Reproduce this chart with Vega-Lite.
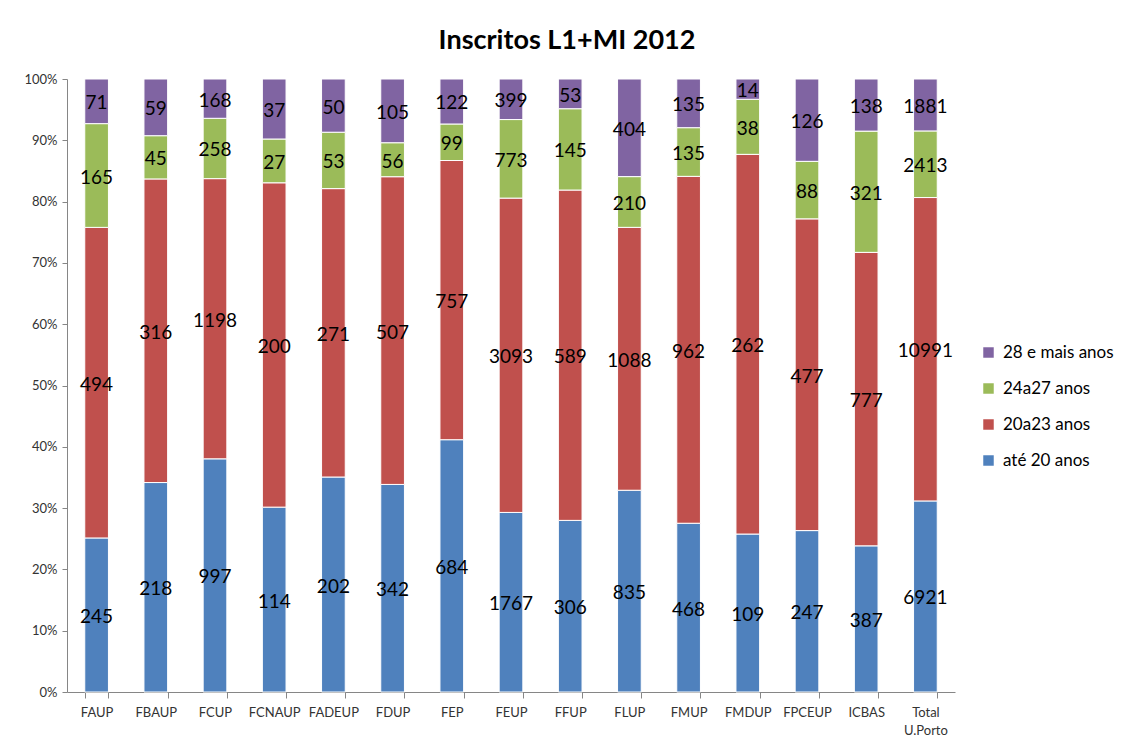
{
  "$schema": "https://vega.github.io/schema/vega-lite/v6.json",
  "width": 888,
  "height": 613,
  "autosize": "none",
  "padding": {"left": 67, "top": 79, "right": 177, "bottom": 52},
  "background": "white",
  "config": {"view": {"stroke": null}, "font": "Lato"},
  "title": {"text": "Inscritos L1+MI 2012", "fontSize": 27, "fontWeight": "bold", "font": "Lato", "color": "#000000", "anchor": "middle", "dx": 56, "offset": 18},
  "data": {"values": [
    {"f": "FAUP", "até 20 anos": 245, "20a23 anos": 494, "24a27 anos": 165, "28 e mais anos": 71},
    {"f": "FBAUP", "até 20 anos": 218, "20a23 anos": 316, "24a27 anos": 45, "28 e mais anos": 59},
    {"f": "FCUP", "até 20 anos": 997, "20a23 anos": 1198, "24a27 anos": 258, "28 e mais anos": 168},
    {"f": "FCNAUP", "até 20 anos": 114, "20a23 anos": 200, "24a27 anos": 27, "28 e mais anos": 37},
    {"f": "FADEUP", "até 20 anos": 202, "20a23 anos": 271, "24a27 anos": 53, "28 e mais anos": 50},
    {"f": "FDUP", "até 20 anos": 342, "20a23 anos": 507, "24a27 anos": 56, "28 e mais anos": 105},
    {"f": "FEP", "até 20 anos": 684, "20a23 anos": 757, "24a27 anos": 99, "28 e mais anos": 122},
    {"f": "FEUP", "até 20 anos": 1767, "20a23 anos": 3093, "24a27 anos": 773, "28 e mais anos": 399},
    {"f": "FFUP", "até 20 anos": 306, "20a23 anos": 589, "24a27 anos": 145, "28 e mais anos": 53},
    {"f": "FLUP", "até 20 anos": 835, "20a23 anos": 1088, "24a27 anos": 210, "28 e mais anos": 404},
    {"f": "FMUP", "até 20 anos": 468, "20a23 anos": 962, "24a27 anos": 135, "28 e mais anos": 135},
    {"f": "FMDUP", "até 20 anos": 109, "20a23 anos": 262, "24a27 anos": 38, "28 e mais anos": 14},
    {"f": "FPCEUP", "até 20 anos": 247, "20a23 anos": 477, "24a27 anos": 88, "28 e mais anos": 126},
    {"f": "ICBAS", "até 20 anos": 387, "20a23 anos": 777, "24a27 anos": 321, "28 e mais anos": 138},
    {"f": "Total U.Porto", "até 20 anos": 6921, "20a23 anos": 10991, "24a27 anos": 2413, "28 e mais anos": 1881}
  ]},
  "transform": [
    {"fold": ["até 20 anos", "20a23 anos", "24a27 anos", "28 e mais anos"], "as": ["g", "v"]},
    {"calculate": "indexof(['até 20 anos','20a23 anos','24a27 anos','28 e mais anos'], datum.g)", "as": "o"},
    {"stack": "v", "groupby": ["f"], "sort": [{"field": "o", "order": "ascending"}], "offset": "normalize", "as": ["y0", "y1"]},
    {"calculate": "(datum.y0 + datum.y1) / 2", "as": "ym"}
  ],
  "encoding": {
    "x": {
      "field": "f", "type": "nominal", "sort": null, "title": null,
      "scale": {"paddingInner": 0.6, "paddingOuter": 0.3},
      "axis": {
        "labelAngle": 0, "labelFontSize": 13, "labelColor": "#333333", "labelPadding": 8,
        "ticks": true, "tickBand": "extent", "tickSize": 6, "tickColor": "#868686", "domainColor": "#868686",
        "labelExpr": "datum.label == 'Total U.Porto' ? ['Total', 'U.Porto'] : datum.label",
        "labelLineHeight": 18
      }
    }
  },
  "layer": [
    {
      "mark": {"type": "bar", "stroke": "white", "strokeWidth": 1},
      "encoding": {
        "y": {"field": "y0", "type": "quantitative", "title": null,
          "scale": {"domain": [0, 1]},
          "axis": {"format": ".0%", "values": [0,0.1,0.2,0.3,0.4,0.5,0.6,0.7,0.8,0.9,1], "labelOverlap": false, "grid": false, "labelFontSize": 13, "labelColor": "#333333", "tickSize": 5, "tickColor": "#868686", "domainColor": "#868686", "labelPadding": 5}},
        "y2": {"field": "y1"},
        "color": {
          "field": "g", "type": "nominal", "title": null,
          "scale": {"domain": ["28 e mais anos", "24a27 anos", "20a23 anos", "até 20 anos"], "range": ["#8064A2", "#9BBB59", "#C0504D", "#4F81BD"]},
          "legend": {"orient": "none", "legendX": 913, "legendY": 265, "symbolType": "square", "symbolSize": 110, "symbolStrokeWidth": 0, "labelFontSize": 17, "labelColor": "#000000", "rowPadding": 18, "labelOffset": 6}
        }
      }
    },
    {
      "mark": {"type": "text", "fontSize": 19, "color": "#000000", "dy": 2},
      "encoding": {
        "y": {"field": "ym", "type": "quantitative"},
        "text": {"field": "v", "type": "quantitative"}
      }
    }
  ]
}
